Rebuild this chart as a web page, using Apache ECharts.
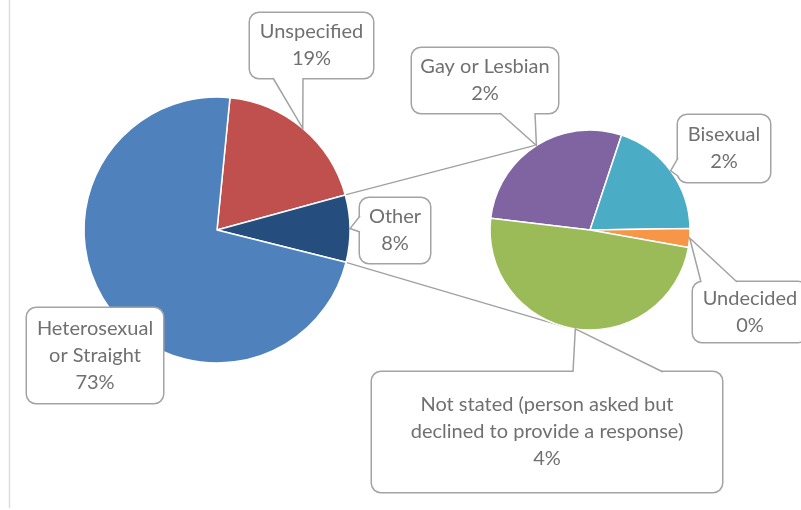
<!DOCTYPE html>
<html><head><meta charset="utf-8">
<script src="https://cdn.jsdelivr.net/npm/echarts@6/dist/echarts.min.js"></script>
<style>html,body{margin:0;padding:0;background:#fff}#c{width:801px;height:510px}</style>
</head><body><div id="c"></div><script>
// ---- data ----
const mainNames = ['Unspecified', 'Other', 'Heterosexual\nor Straight'];
const mainValues = [19.2, 8.15, 72.65];
const subNames = ['Gay or Lesbian', 'Bisexual', 'Undecided', 'Not stated (person asked but\ndeclined to provide a response)'];
const subValues = [2.3, 1.6, 0.25, 4.0];
const mainColors = ['#C0504D', '#254E7E', '#4F81BD'];
const subColors = ['#8064A2', '#4BACC6', '#F79646', '#9BBB59'];

// ---- layout ----
const P1 = {cx: 217, cy: 230, r: 133, start: 5.6};
const P2 = {cx: 590, cy: 230, r: 100, start: 276.8};
const CONNECT_END = [328.6, 194.5];
const LH = 27, FS = 20, FONT = 'Lato', TXT = '#707070', BORDER = '#a3a3a3';
const mainBoxes = [
  {x: 250, y: 13, w: 123, h: 65, ptr: {side: 'bottom', a: 273, b: 303}},
  {x: 360, y: 198, w: 70, h: 65, ptr: {side: 'left', a: 216, b: 232}},
  {x: 27, y: 308, w: 136, h: 95, ptr: null}
];
const subBoxes = [
  {x: 412, y: 48, w: 146, h: 65, ptr: {side: 'bottom', a: 500, b: 535}},
  {x: 678, y: 115, w: 92, h: 67, ptr: {side: 'left', a: 158, b: 176}},
  {x: 693, y: 282, w: 114, h: 60, ptr: {side: 'top', a: 701, b: 737}},
  {x: 372, y: 372, w: 350, h: 120, ptr: {side: 'top', a: 573, b: 663}}
];

const sum = a => a.reduce((s, v) => s + v, 0);
const grandTotal = sum(mainValues);
function pt(p, deg) { const a = deg * Math.PI / 180; return [p.cx + p.r * Math.sin(a), p.cy - p.r * Math.cos(a)]; }
function angles(p, vals) {
  const t = sum(vals); let c = 0;
  return vals.map(v => { const a0 = p.start + 360 * c / t; c += v; const a1 = p.start + 360 * c / t; return [a0, a1]; });
}
const mainAng = angles(P1, mainValues);
const subAng = angles(P2, subValues);

function makeData(names, vals, colors, boxes) {
  return names.map((n, i) => {
    const b = boxes[i];
    const lines = n.split('\n').length + 1;
    const pv = (b.h - lines * LH) / 2;
    return {name: n, value: vals[i], itemStyle: {color: colors[i]},
      label: {width: b.w, padding: [pv + 1, 0, pv - 1, 0]}};
  });
}
const labelStyle = {
  show: true, position: 'outside', fontFamily: FONT, fontSize: FS, lineHeight: LH, color: TXT,
  backgroundColor: '#fff', borderColor: BORDER, borderWidth: 1.5, borderRadius: 9, align: 'center',
  formatter: p => p.name + '\n' + Math.round(p.value / grandTotal * 100) + '%'
};
function layoutFn(boxes) {
  return params => { const b = boxes[params.dataIndex];
    return {x: b.x + b.w / 2, y: b.y + b.h / 2, align: 'center', verticalAlign: 'middle'}; };
}

// pointers + connectors
const graphics = [];
graphics.push({type: 'line', z: 0, shape: {x1: 9.5, y1: 0, x2: 9.5, y2: 508}, style: {stroke: '#dedede', lineWidth: 1.5}});
const oth = mainAng[1];
[oth[0], oth[1]].forEach((a, k) => {
  const s = pt(P1, a), e = pt(P2, CONNECT_END[k]);
  graphics.push({type: 'line', z: 1, shape: {x1: s[0], y1: s[1], x2: e[0], y2: e[1]}, style: {stroke: '#a0a0a0', lineWidth: 1.3}});
});
function addPointer(b, tip) {
  if (!b.ptr) return;
  const p = b.ptr; let A, B, A2, B2;
  if (p.side === 'bottom') { const y = b.y + b.h; A = [p.a, y]; B = [p.b, y]; A2 = [p.a + 1, y - 1.5]; B2 = [p.b - 1, y - 1.5]; }
  else if (p.side === 'top') { const y = b.y; A = [p.a, y]; B = [p.b, y]; A2 = [p.a + 1, y + 1.5]; B2 = [p.b - 1, y + 1.5]; }
  else { const x = b.x; A = [x, p.a]; B = [x, p.b]; A2 = [x + 1.5, p.a + 1]; B2 = [x + 1.5, p.b - 1]; }
  graphics.push({type: 'polygon', z: 100, shape: {points: [A2, A, tip, B, B2]}, style: {fill: '#fff'}});
  graphics.push({type: 'polyline', z: 101, shape: {points: [A, tip, B]}, style: {stroke: BORDER, lineWidth: 1.5, fill: null}});
}
mainBoxes.forEach((b, i) => addPointer(b, pt(P1, (mainAng[i][0] + mainAng[i][1]) / 2)));
subBoxes.forEach((b, i) => addPointer(b, pt(P2, (subAng[i][0] + subAng[i][1]) / 2)));

const chart = echarts.init(document.getElementById('c'), null, {renderer: 'canvas'});
chart.setOption({
  backgroundColor: '#fff',
  animation: false,
  graphic: {elements: graphics},
  series: [
    {type: 'pie', center: [P1.cx, P1.cy], radius: P1.r, startAngle: 90 - P1.start, clockwise: true,
     avoidLabelOverlap: false, silent: true, z: 2,
     itemStyle: {borderColor: '#fff', borderWidth: 1.5},
     label: labelStyle, labelLine: {show: false}, labelLayout: layoutFn(mainBoxes),
     data: makeData(mainNames, mainValues, mainColors, mainBoxes)},
    {type: 'pie', center: [P2.cx, P2.cy], radius: P2.r, startAngle: 90 - P2.start + 360, clockwise: true,
     avoidLabelOverlap: false, silent: true, z: 2,
     itemStyle: {borderColor: '#fff', borderWidth: 1.5},
     label: labelStyle, labelLine: {show: false}, labelLayout: layoutFn(subBoxes),
     data: makeData(subNames, subValues, subColors, subBoxes)}
  ]
});
</script></body></html>
